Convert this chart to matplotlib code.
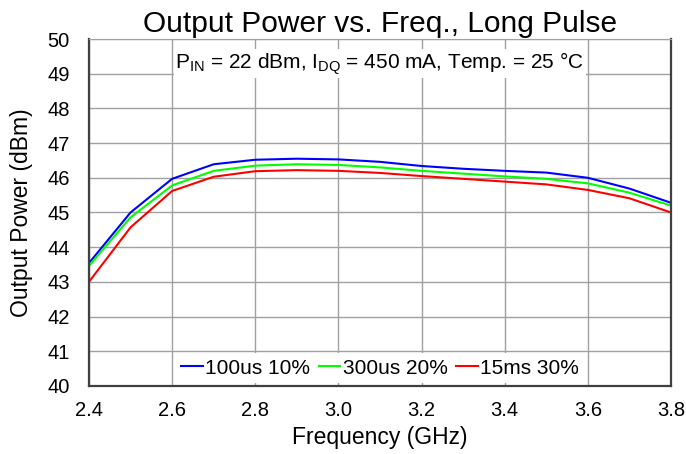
import matplotlib
matplotlib.use('Agg')
import matplotlib.pyplot as plt
import numpy as np

plt.rcParams['font.family'] = ['Liberation Sans', 'DejaVu Sans']
plt.rcParams['mathtext.fontset'] = 'custom'
plt.rcParams['mathtext.rm'] = 'Liberation Sans'
plt.rcParams['mathtext.it'] = 'Liberation Sans'

# frequency (GHz) and output power (dBm) per pulse condition
freq = [2.4, 2.5, 2.6, 2.7, 2.8, 2.9, 3.0, 3.1, 3.2, 3.3, 3.4, 3.5, 3.6, 3.7, 3.8]
p_100us = [43.54, 45.0, 45.97, 46.39, 46.52, 46.55, 46.53, 46.46, 46.34, 46.26,
           46.2, 46.15, 46.0, 45.69, 45.28]
p_300us = [43.46, 44.86, 45.78, 46.2, 46.35, 46.39, 46.37, 46.3, 46.2, 46.12,
           46.04, 45.97, 45.84, 45.57, 45.2]
p_15ms = [43.0, 44.57, 45.62, 46.03, 46.19, 46.22, 46.2, 46.14, 46.05, 45.97,
          45.89, 45.81, 45.65, 45.41, 45.0]
labels = ['100us 10%', '300us 20%', '15ms 30%']
colors = ['#0000ff', '#00ff00', '#ff0000']

fig = plt.figure(figsize=(6.86, 4.54), dpi=100)
ax = fig.add_axes([0.1297, 0.150, 0.8483, 0.764])

for y, lab, c in zip([p_100us, p_300us, p_15ms], labels, colors):
    ax.plot(freq, y, color=c, lw=1.5, label=lab)

ax.set_xlim(2.4, 3.8)
ax.set_ylim(40, 50)
ax.set_xticks(np.arange(2.4, 3.81, 0.2))
ax.set_yticks(np.arange(40, 51, 1))
ax.xaxis.set_major_formatter(matplotlib.ticker.FormatStrFormatter('%.1f'))
ax.grid(True, color='#a0a0a0', lw=1)
ax.set_axisbelow(True)
ax.tick_params(length=0, labelsize=14.5)
ax.tick_params(axis='x', pad=11)
ax.tick_params(axis='y', pad=14)

for s in ['left', 'right', 'bottom']:
    ax.spines[s].set_color('#404040')
    ax.spines[s].set_linewidth(1.6)
ax.spines['top'].set_color('#a0a0a0')

ax.set_title('Output Power vs. Freq., Long Pulse', fontsize=21.5, pad=5)
ax.set_xlabel('Frequency (GHz)', fontsize=16.5, labelpad=4)
ax.set_ylabel('Output Power (dBm)', fontsize=16.5, labelpad=10)

ax.text(0.5, 0.93, r'P$_{\mathrm{IN}}$ = 22 dBm, I$_{\mathrm{DQ}}$ = 450 mA, Temp. = 25 °C',
        transform=ax.transAxes, ha='center', va='center', fontsize=15,
        bbox=dict(facecolor='white', edgecolor='none', pad=1))

leg = ax.legend(loc='lower center', ncol=3, fontsize=15, frameon=True,
                handlelength=1.05, handletextpad=0.1, columnspacing=0.4,
                borderaxespad=0.15, borderpad=0.25, fancybox=False)
leg.get_frame().set_edgecolor('none')
leg.get_frame().set_alpha(1)

fig.savefig('out.png', dpi=100)
